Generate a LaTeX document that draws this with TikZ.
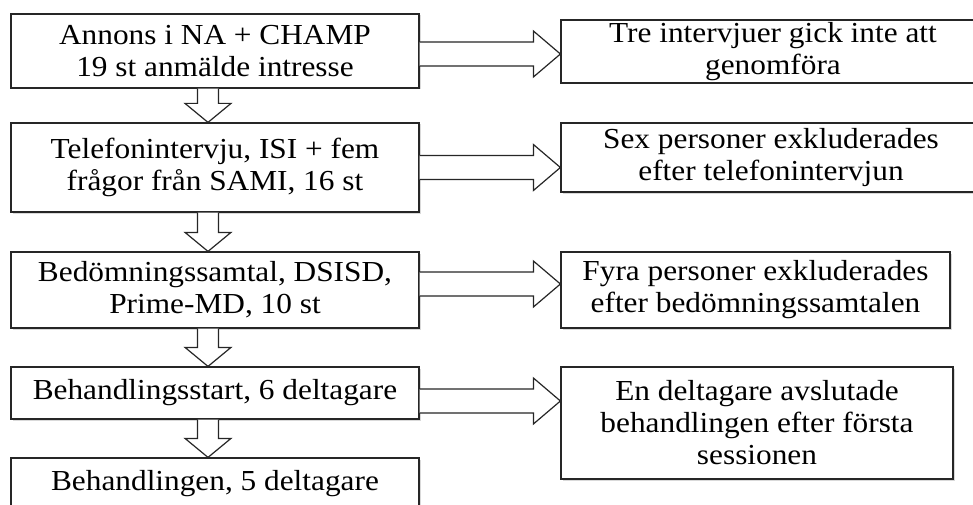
\documentclass[tikz,border=0pt]{standalone}
\usepackage{fontspec}
\setmainfont{Liberation Serif}[FakeStretch=1.08]
\usetikzlibrary{calc,shadows}

\tikzset{
  box/.style={draw=black!85, line width=1.2pt, fill=white, align=center,
              inner sep=0pt, font=\fontsize{29}{32}\selectfont,
              drop shadow={shadow xshift=1.5pt, shadow yshift=-1.5pt, opacity=0.3}},
  leftbox/.style={box, minimum width=408pt},
  hollow/.style={draw=black!85, line width=1.2pt, fill=white}
}

% hollow arrow to the right, #3 = vertical shift of the shaft
\newcommand\rightblock[3]{%
  \path[hollow] let \p1=($(#1.east)+(0,#3)$), \p2=(#2.west) in
    (\x1,\y1+12pt) -- (\x2-27pt,\y1+12pt) -- (\x2-27pt,\y1+23pt) -- (\x2,\y1)
    -- (\x2-27pt,\y1-23pt) -- (\x2-27pt,\y1-12pt) -- (\x1,\y1-12pt);}
% hollow arrow downwards, #3 = horizontal shift of the shaft
\newcommand\downblock[3]{%
  \path[hollow] let \p1=($(#1.south)+(#3,0)$), \p2=(#2.north) in
    (\x1-10.5pt,\y1) -- (\x1-10.5pt,\y2+19pt) -- (\x1-23pt,\y2+19pt) -- (\x1,\y2)
    -- (\x1+23pt,\y2+19pt) -- (\x1+10.5pt,\y2+19pt) -- (\x1+10.5pt,\y1);}

\begin{document}
\begin{tikzpicture}[x=1pt, y=-1pt]
  \useasboundingbox (0,0) rectangle (973,505);

  % main flow
  \node[leftbox, minimum height=74pt] (annons) at (215,51)
    {Annons i NA + CHAMP\\19 st anmälde intresse};
  \node[leftbox, minimum height=89pt] (telefon) at (215,167.5)
    {Telefonintervju, ISI + fem\\frågor från SAMI, 16 st};
  \node[leftbox, minimum height=76pt] (bedom) at (215,290)
    {Bedömningssamtal, DSISD,\\Prime-MD, 10 st};
  \node[leftbox, minimum height=52pt] (start) at (215,393)
    {Behandlingsstart, 6 deltagare};
  \node[leftbox, minimum height=52pt] (behandl) at (215,484)
    {Behandlingen, 5 deltagare};

  % drop-outs
  \node[box, minimum width=424pt, minimum height=63pt] (tre) at (773,51.5)
    {Tre intervjuer gick inte att\\genomföra};
  \node[box, minimum width=420pt, minimum height=69pt] (sex) at (771,157.5)
    {Sex personer exkluderades\\efter telefonintervjun};
  \node[box, minimum width=389pt, minimum height=76pt] (fyra) at (755.5,290)
    {Fyra personer exkluderades\\efter bedömningssamtalen};
  \node[box, minimum width=392pt, minimum height=112pt] (en) at (757,423)
    {En deltagare avslutade\\behandlingen efter första\\sessionen};

  \downblock{annons}{telefon}{-7}
  \downblock{telefon}{bedom}{-7}
  \downblock{bedom}{start}{-7}
  \downblock{start}{behandl}{-7}

  \rightblock{annons}{tre}{3}
  \rightblock{telefon}{sex}{0}
  \rightblock{bedom}{fyra}{-6}
  \rightblock{start}{en}{8}
\end{tikzpicture}
\end{document}
